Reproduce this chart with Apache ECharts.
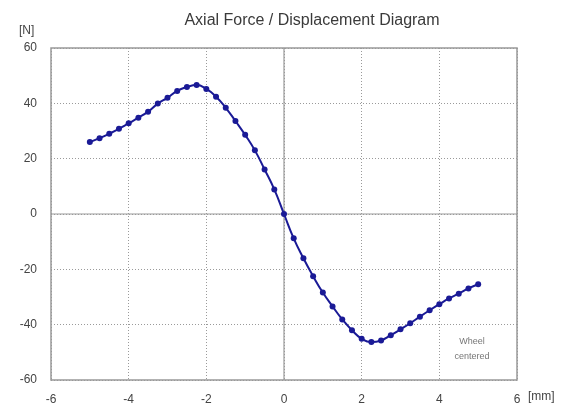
<!DOCTYPE html>
<html>
<head>
<meta charset="utf-8">
<script src="https://cdn.jsdelivr.net/npm/echarts@6/dist/echarts.min.js"></script>
<style>
html,body{margin:0;padding:0;background:#fff;}
#chart{width:574px;height:408px;}
</style>
</head>
<body>
<div id="chart"></div>
<script>
var titleText = 'Axial Force / Displacement Diagram';
var xUnit = '[mm]';
var yUnit = '[N]';
var noteText = 'Wheel\ncentered';
var displacement = [-5,-4.75,-4.5,-4.25,-4,-3.75,-3.5,-3.25,-3,-2.75,-2.5,-2.25,-2,-1.75,-1.5,-1.25,-1,-0.75,-0.5,-0.25,0,
  0.25,0.5,0.75,1,1.25,1.5,1.75,2,2.25,2.5,2.75,3,3.25,3.5,3.75,4,4.25,4.5,4.75,5];
var force = [26.0,27.4,29.0,30.8,32.8,34.8,37.0,39.9,42.0,44.5,45.9,46.6,45.2,42.4,38.4,33.6,28.6,23.0,16.1,8.9,0,
  -8.8,-16.0,-22.5,-28.4,-33.4,-38.1,-42.0,-45.1,-46.3,-45.7,-43.8,-41.7,-39.5,-37.1,-34.8,-32.6,-30.5,-28.8,-26.9,-25.4];
var xTicks = {min:-6, max:6, interval:2};
var yTicks = {min:-60, max:60, interval:20};

var pts = displacement.map(function(x,i){return [x, force[i]];});
var font = 'Liberation Sans, Arial, sans-serif';
var chart = echarts.init(document.getElementById('chart'));
chart.setOption({
  animation:false,
  backgroundColor:'#fff',
  title:{text:titleText, left:307, top:8, textAlign:'center',
    textStyle:{fontFamily:font, fontSize:16, fontWeight:'normal', color:'#3a3a3a'}},
  grid:{left:51, right:57, top:48, bottom:28},
  xAxis:{type:'value', min:xTicks.min, max:xTicks.max, interval:xTicks.interval,
    axisLine:{show:false}, axisTick:{show:false},
    axisLabel:{margin:14, fontFamily:font, fontSize:12, color:'#444'},
    splitLine:{show:true, lineStyle:{color:'#9a9a9a', type:[1,2], width:1}}},
  yAxis:{type:'value', min:yTicks.min, max:yTicks.max, interval:yTicks.interval,
    axisLine:{show:false}, axisTick:{show:false},
    axisLabel:{margin:14, fontFamily:font, fontSize:12, color:'#444'},
    splitLine:{show:true, lineStyle:{color:'#9a9a9a', type:[1,2], width:1}}},
  graphic:[
    {type:'rect', shape:{x:51, y:48, width:466, height:332}, style:{fill:'none', stroke:'#999', lineWidth:1.5}, z:10},
    {type:'text', x:19, y:25, style:{text:yUnit, font:'12px '+font, fill:'#444'}},
    {type:'text', x:528, y:391, style:{text:xUnit, font:'12px '+font, fill:'#444'}},
    {type:'text', x:472, y:334, style:{text:noteText, font:'9px '+font, fill:'#777', align:'center', lineHeight:15}}
  ],
  series:[
    {type:'line', data:[[0,yTicks.min],[0,yTicks.max]], symbol:'none', silent:true,
      lineStyle:{color:'#999', width:1.2}, z:1},
    {type:'line', data:[[xTicks.min,0],[xTicks.max,0]], symbol:'none', silent:true,
      lineStyle:{color:'#999', width:1.2}, z:1},
    {type:'line', data:pts, smooth:true, symbol:'circle', symbolSize:6,
      lineStyle:{color:'#1a1a96', width:2}, itemStyle:{color:'#1a1a96'}, z:5}
  ]
});
</script>
</body>
</html>
